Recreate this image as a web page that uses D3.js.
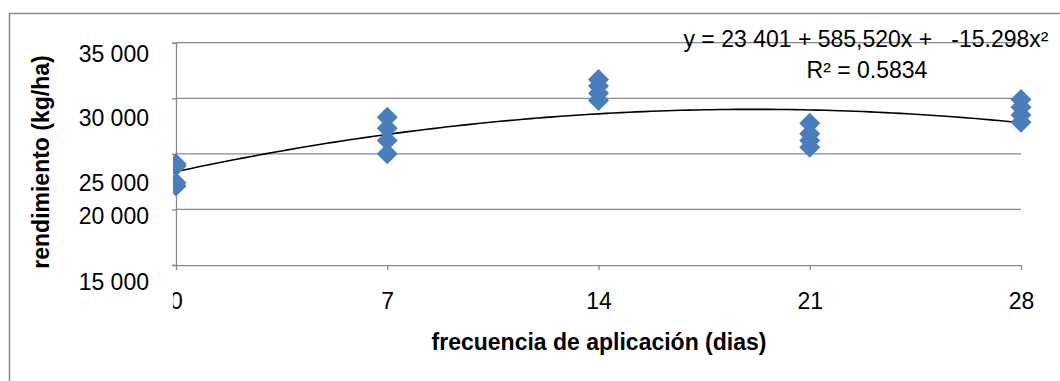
<!DOCTYPE html>
<html>
<head>
<meta charset="utf-8">
<script src="https://cdn.jsdelivr.net/npm/d3@7"></script>
<style>
  html, body { margin: 0; padding: 0; background: #fff; }
  svg { display: block; font-family: "Liberation Sans", Arial, sans-serif; }
</style>
</head>
<body>
<svg width="1060" height="381"></svg>
<script>
// days between applications (x categories)
const days = [0, 7, 14, 21, 28];
// yield readings (kg/ha), four replicates per frequency
const rend0 = [24100, 23900, 22400, 22100];
const rend7 = [28300, 27300, 26200, 25000];
const rend14 = [31700, 31100, 30450, 29800];
const rend21 = [27750, 26800, 26200, 25600];
const rend28 = [29900, 29200, 28500, 27850];
const yTicks = [15000, 20000, 25000, 30000, 35000];
const yTickLabels = ['15 000', '20 000', '25 000', '30 000', '35 000'];
// fitted polynomial trend (a + b x + c x^2) as printed on the chart
const trendCoef = [23401, 585.52, -15.298];
const eqLabel = 'y = 23 401 + 585,520x +   -15.298x²';
const r2Label = 'R² = 0.5834';

const svg = d3.select('svg');
const plotL = 176, plotR = 1021, plotT = 42.7, plotB = 265;

const x = d3.scaleLinear().domain([0, 28]).range([plotL, plotR]);
const y = d3.scaleLinear().domain([15000, 35000]).range([plotB, plotT]);

// outer chart frame
svg.append('rect')
  .attr('x', 9.5).attr('y', 13.5)
  .attr('width', 1100).attr('height', 400)
  .attr('fill', 'none').attr('stroke', '#8a8a8a').attr('stroke-width', 1.5);

svg.append('clipPath').attr('id', 'plotclip')
  .append('rect').attr('x', 173).attr('y', 0).attr('width', 900).attr('height', 381);

// gridlines
svg.append('g')
  .selectAll('line')
  .data(yTicks.slice(1))
  .join('line')
  .attr('x1', plotL).attr('x2', plotR)
  .attr('y1', d => y(d)).attr('y2', d => y(d))
  .attr('stroke', '#8a8a8a').attr('stroke-width', 1.3);

// y axis (labels sit where the original text boxes were placed)
const labelNudge = { 15000: 16, 20000: 6.5, 25000: 29, 30000: 19.7, 35000: 10.5 };
const yAxis = svg.append('g')
  .attr('transform', `translate(${plotL},0)`)
  .call(d3.axisLeft(y).tickValues(yTicks).tickSize(4).tickPadding(23)
    .tickFormat((d, i) => yTickLabels[i]));
yAxis.select('.domain').attr('stroke', '#8a8a8a').attr('stroke-width', 1.3);
yAxis.selectAll('.tick line').attr('stroke', '#8a8a8a').attr('stroke-width', 1.3);
yAxis.selectAll('.tick text')
  .attr('font-size', 23).attr('fill', '#000')
  .attr('dy', d => labelNudge[d] + 8)
  .attr('font-family', '"Liberation Sans", Arial, sans-serif');

// x axis
const xAxis = svg.append('g')
  .attr('transform', `translate(0,${plotB})`)
  .call(d3.axisBottom(x).tickValues(days).tickSize(5).tickSizeOuter(0).tickPadding(26));
xAxis.select('.domain').attr('stroke', '#8a8a8a').attr('stroke-width', 1.3);
xAxis.selectAll('.tick line').attr('stroke', '#8a8a8a').attr('stroke-width', 1.3);
xAxis.selectAll('.tick text')
  .attr('font-size', 23).attr('fill', '#000')
  .attr('dy', '0.55em')
  .attr('font-family', '"Liberation Sans", Arial, sans-serif');
xAxis.attr('clip-path', 'url(#plotclip)');

// trend curve
const trendX = d3.range(0, 28.01, 0.25);
const poly = t => trendCoef[0] + trendCoef[1] * t + trendCoef[2] * t * t;
svg.append('path')
  .datum(trendX)
  .attr('d', d3.line().x(d => x(d)).y(d => y(poly(d))))
  .attr('fill', 'none').attr('stroke', '#000').attr('stroke-width', 1.6);

// scatter points
const points = [];
[rend0, rend7, rend14, rend21, rend28].forEach((arr, i) => {
  arr.forEach(v => points.push({ day: days[i], v }));
});
const diamond = 'M0,-10.5L10.5,0L0,10.5L-10.5,0Z';
svg.append('g')
  .attr('clip-path', 'url(#plotclip)')
  .selectAll('path')
  .data(points)
  .join('path')
  .attr('d', diamond)
  .attr('transform', d => `translate(${x(d.day)},${y(d.v)})`)
  .attr('fill', '#4a7ebb');

// axis titles
svg.append('text')
  .attr('x', 599).attr('y', 350)
  .attr('text-anchor', 'middle')
  .attr('font-size', 23).attr('font-weight', 'bold')
  .text('frecuencia de aplicación (dias)');

svg.append('text')
  .attr('transform', 'translate(49,162) rotate(-90)')
  .attr('text-anchor', 'middle')
  .attr('font-size', 23).attr('font-weight', 'bold')
  .text('rendimiento (kg/ha)');

// equation labels
svg.append('text')
  .attr('x', 866).attr('y', 47)
  .attr('text-anchor', 'middle')
  .attr('font-size', 23)
  .style('white-space', 'pre')
  .text(eqLabel);

svg.append('text')
  .attr('x', 867).attr('y', 78)
  .attr('text-anchor', 'middle')
  .attr('font-size', 23)
  .text(r2Label);
</script>
</body>
</html>
